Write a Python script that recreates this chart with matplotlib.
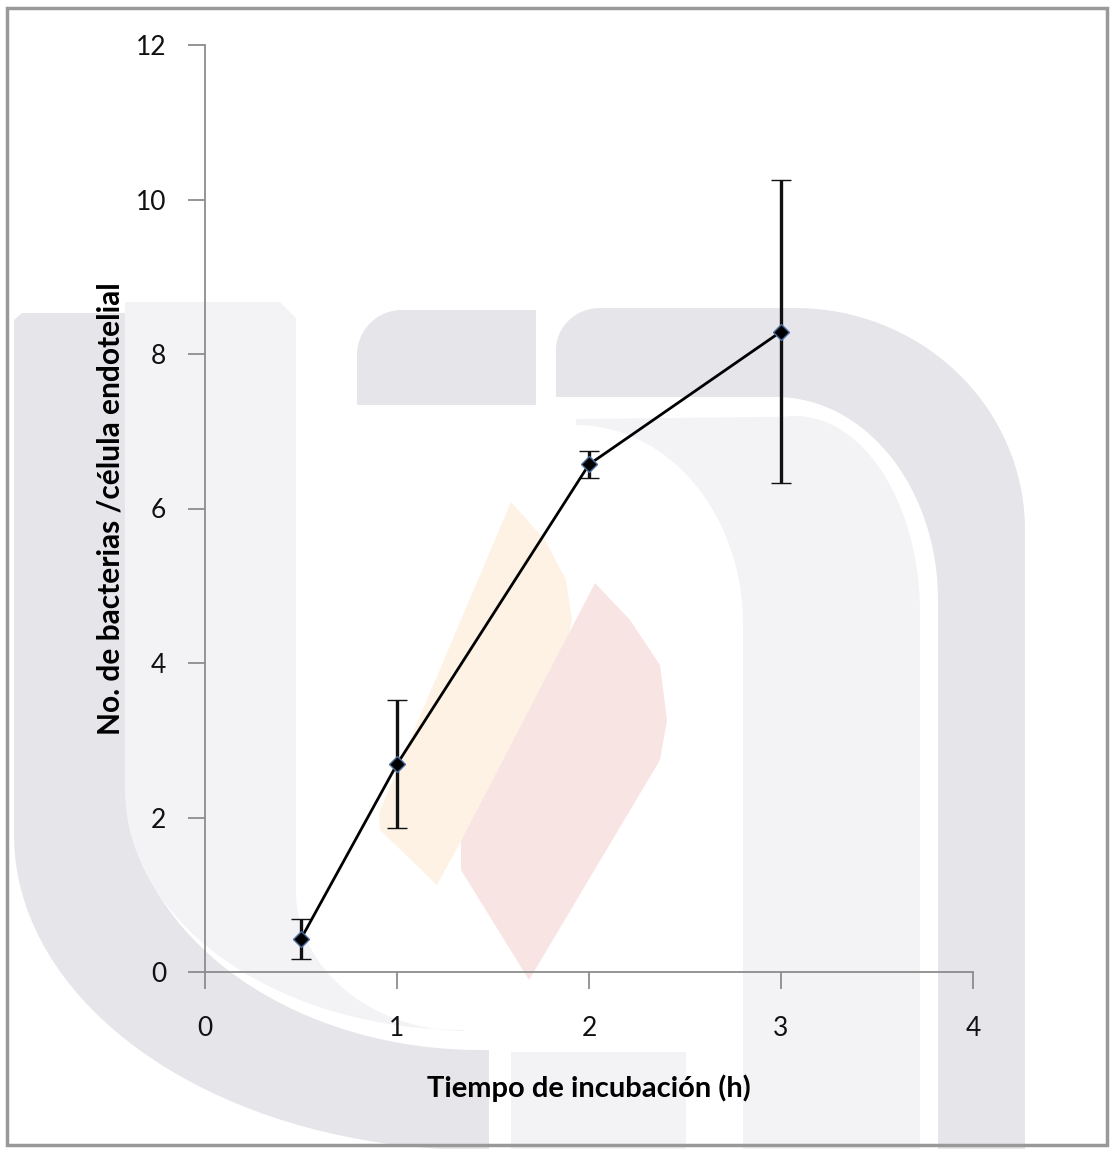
import numpy as np
import matplotlib.pyplot as plt
from matplotlib.patches import Polygon, Rectangle

# DATA
tiempo = [0.5, 1, 2, 3]
bacterias = [0.43, 2.69, 6.57, 8.29]
error = [0.26, 0.83, 0.18, 1.96]
x_ticks = [0, 1, 2, 3, 4]
y_ticks = [0, 2, 4, 6, 8, 10, 12]

W, H = 1112, 1149
plt.rcParams['font.family'] = ['Lato', 'DejaVu Sans']

fig = plt.figure(figsize=(W / 100, H / 100), dpi=100)
fig.patch.set_facecolor('white')

# BACKGROUND AXES FOR THE FAINT WATERMARK (pixel coords, y down)
bg = fig.add_axes([0, 0, 1, 1], zorder=0)
bg.set_xlim(0, W)
bg.set_ylim(H, 0)
bg.axis('off')


def ell(cx, cy, rx, ry, a0, a1, n=40):
    t = np.radians(np.linspace(a0, a1, n))
    return [(cx + rx * np.cos(a), cy + ry * np.sin(a)) for a in t]


def shape(pts, color):
    bg.add_patch(Polygon(pts, closed=True, fc=color, ec='none'))


dark = '#e5e5ea'
light = '#f3f3f6'

# left "U" - outer stroke and inner fill
shape([(14, 320), (22, 313), (125, 313)] + ell(480, 780, 355, 270, 180, 90) +
      [(489, 1050), (489, 1150)] + ell(480, 835, 466, 315, 90, 180), dark)
shape([(125, 302), (280, 302), (296, 318)] + ell(464, 891, 168, 140, 180, 90) +
      ell(464, 790, 339, 240, 90, 180), light)

# right arch - outer stroke and inner fill
shape([(556, 397), (556, 345)] + ell(600, 350, 44, 42, 180, 270) + ell(795, 530, 230, 222, 270, 360) +
      [(1025, 1150), (938, 1150)] + ell(776, 600, 162, 203, 0, -90) + [(556, 397)], dark)
shape([(576, 419)] + ell(795, 613, 125, 197, 265, 360) + [(920, 1150), (743, 1150)] +
      ell(576, 624, 167, 199, 0, -90), light)
# top left block
shape([(357, 405), (357, 355)] + ell(402, 355, 45, 45, 180, 270) + [(536, 310), (536, 405)], dark)
# base block
shape([(511, 1052), (686, 1052), (686, 1150), (511, 1150)], light)

# flames
shape([(511, 502), (545, 540), (566, 580), (572, 620), (565, 650), (437, 885), (380, 830), (379, 813)],
      '#fdf2e4')
shape([(595, 583), (630, 620), (660, 665), (667, 720), (660, 760), (529, 980), (461, 870), (461, 841)],
      '#f9e4e4')

# outer frame
bg.add_patch(Rectangle((7, 8), 1100, 1137, fill=False, ec='#999999', lw=2.5, zorder=5))


# CHART
ax = fig.add_axes([205 / W, 1 - 972 / H, (973 - 205) / W, (972 - 45) / H], zorder=1)
ax.patch.set_alpha(0)
ax.errorbar(tiempo, bacterias, yerr=error, color='black', lw=2, ecolor='#111111',
            elinewidth=2.4, capsize=7, capthick=2.4, marker='D', ms=8,
            mfc='black', mec='#4a6f9f', mew=1, zorder=3)

ax.set_xlim(0, 4)
ax.set_ylim(0, 12)
ax.set_xticks(x_ticks)
ax.set_yticks(y_ticks)
ax.spines['top'].set_visible(False)
ax.spines['right'].set_visible(False)
for s in ['left', 'bottom']:
    ax.spines[s].set_color('#8c8c8c')
    ax.spines[s].set_linewidth(1.3)
ax.tick_params(axis='both', colors='#8c8c8c', length=12, width=1.3, labelsize=19,
               labelcolor='#111111')
ax.tick_params(axis='x', pad=20)
ax.tick_params(axis='y', pad=16)

ax.set_xlabel('Tiempo de incubación (h)', fontsize=21, fontweight='bold', labelpad=24)
ax.set_ylabel('No. de bacterias /célula endotelial', fontsize=21.5, fontweight='bold', labelpad=8)

plt.savefig('out.png', dpi=100)
